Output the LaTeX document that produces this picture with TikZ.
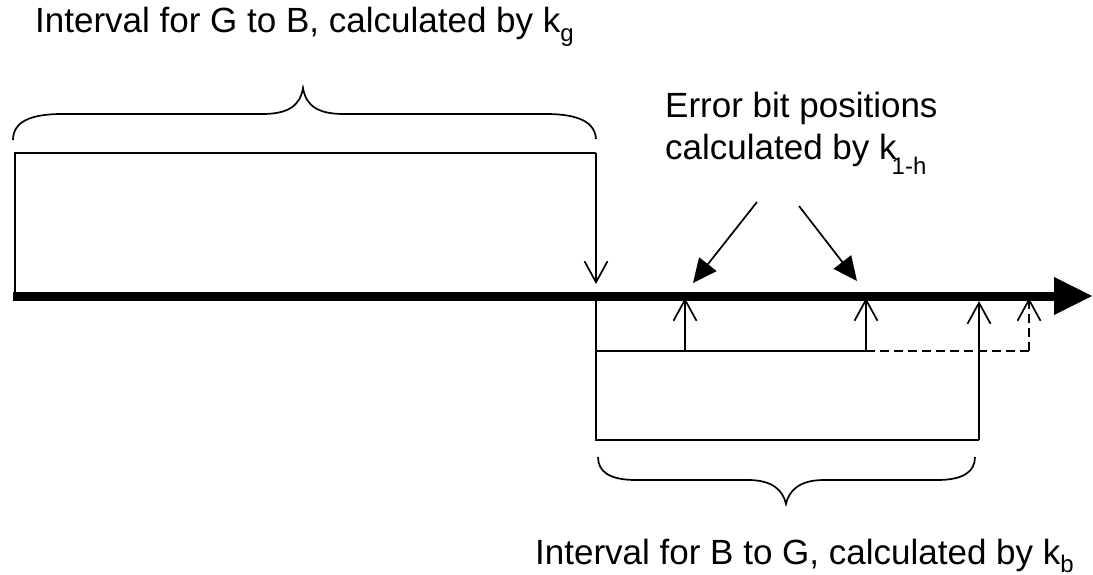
\documentclass[tikz,border=0pt]{standalone}
\usepackage{fontspec}
\setmainfont{Liberation Sans}
\usetikzlibrary{arrows.meta}
\newcommand{\subdown}[2]{\raisebox{-#1pt}{\fontsize{24}{24}\selectfont #2}}
\tikzset{
  thin line/.style={line width=1.7pt},
  open tip/.style={thin line,-{Straight Barb[length=21pt,width=23pt,line width=1.7pt]}},
  fill tip/.style={thin line,-{Triangle[length=24pt,width=22pt]}},
  label text/.style={anchor=base west,inner sep=0pt,font=\fontsize{35}{42}\selectfont},
  brace/.style={thin line},
  dash line/.style={thin line,dash pattern=on 9pt off 5pt}
}
\begin{document}
\begin{tikzpicture}[x=1pt,y=-1pt]
\useasboundingbox (0,0) rectangle (1093,575);
% texts
\node[label text] (tgb) at (35,33) {Interval for G to B, calculated by k\subdown{9}{g}};
\node[label text] (err1) at (665,118) {Error bit positions};
\node[label text] (err2) at (665,160) {calculated by k\kern-5pt\subdown{15}{1-h}};
\node[label text] (tbg) at (535,564) {Interval for B to G, calculated by k\subdown{8}{b}};
% coordinates
\coordinate (axS) at (13,296);
\coordinate (axE) at (1054,296);
\coordinate (axT) at (1092,296);
\coordinate (L1) at (15,292);
\coordinate (L2) at (15,153);
\coordinate (R2) at (596,153);
\coordinate (R1) at (596,284);
\coordinate (B0) at (596,301);
\coordinate (B1) at (596,440);
\coordinate (B2) at (979,440);
\coordinate (B3) at (979,301);
\coordinate (I0) at (597,351);
\coordinate (I1) at (685,351);
\coordinate (I1t) at (685,298);
\coordinate (I2) at (866,351);
\coordinate (I2t) at (866,298);
\coordinate (D1) at (1029,351);
\coordinate (D1t) at (1029,298);
\coordinate (fa1s) at (757,202);
\coordinate (fa1e) at (693,283);
\coordinate (fa2s) at (799,206);
\coordinate (fa2e) at (857,281);
% axis
\draw[line width=9pt] (axS) -- (axE);
\fill (1054,277) -- (axT) -- (1054,315) -- cycle;
% upper interval
\draw[thin line] (L1) -- (L2) -- (R2);
\draw[open tip] (R2) -- (R1);
% lower interval
\draw[thin line] (B0) -- (B1) -- (B2);
\draw[open tip] (B2) -- (B3);
\draw[thin line] (I0) -- (I2);
\draw[open tip] (I1) -- (I1t);
\draw[open tip] (I2) -- (I2t);
\draw[dash line] (I2) -- (D1);
\draw[dash line,-{Straight Barb[length=21pt,width=23pt,line width=1.7pt]}] (D1) -- (D1t);
% filled arrows
\draw[fill tip] (fa1s) -- (fa1e);
\draw[fill tip] (fa2s) -- (fa2e);
% braces
\draw[brace] (13,140) .. controls (13,122) and (30,114) .. (62,114)
  -- (262,114) .. controls (288,114) and (300,106) .. (303,88)
  .. controls (306,106) and (318,114) .. (344,114)
  -- (546,114) .. controls (578,114) and (595,122) .. (596,139);
\draw[brace] (598,457) .. controls (598,472) and (610,480) .. (636,480)
  -- (748,480) .. controls (772,480) and (783,490) .. (786,504)
  .. controls (789,490) and (800,480) .. (824,480)
  -- (937,480) .. controls (963,480) and (975,472) .. (975,457);
\end{tikzpicture}
\end{document}
